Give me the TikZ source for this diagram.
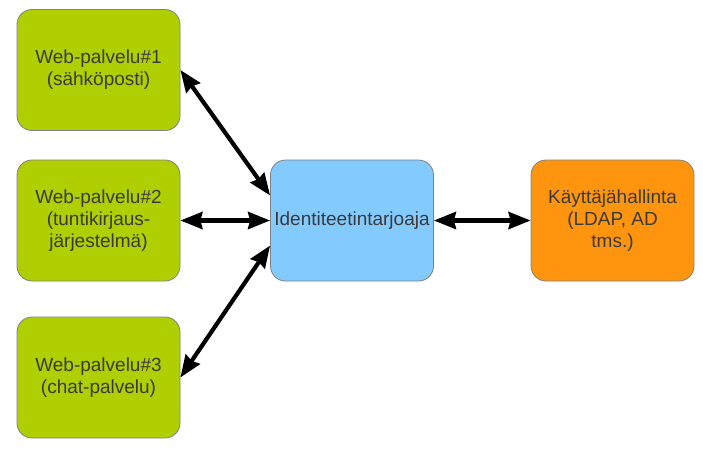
\documentclass[tikz,border=0pt]{standalone}
\usepackage{fontspec}
\setmainfont{Liberation Sans}
\usetikzlibrary{arrows.meta}

\definecolor{webgreen}{HTML}{B0CF00}
\definecolor{idpblue}{HTML}{83CAFF}
\definecolor{userorange}{HTML}{FF950E}
\definecolor{boxtext}{HTML}{3A3A3A}

\begin{document}
\begin{tikzpicture}[x=1pt,y=-1pt,
    box/.style={draw=gray,line width=0.8pt,rounded corners=15pt,
      minimum width=163pt,minimum height=121pt,inner sep=0pt,
      align=center,text=boxtext,font=\fontsize{19}{22}\selectfont},
    link/.style={line width=4.2pt,{Stealth[length=22pt,width=17pt,inset=2pt]}-{Stealth[length=22pt,width=17pt,inset=2pt]}}]
  \path[use as bounding box] (0,0) rectangle (703,450);

  \node[box,fill=webgreen] (web1) at (98.5,70) {Web-palvelu\#1\\(sähköposti)};
  \node[box,fill=webgreen] (web2) at (98.5,220.5) {Web-palvelu\#2\\(tuntikirjaus-\\järjestelmä)};
  \node[box,fill=webgreen] (web3) at (98.5,377.5) {Web-palvelu\#3\\(chat-palvelu)};
  \node[box,fill=idpblue] (idp) at (352,220.5) {Identiteetintarjoaja};
  \node[box,fill=userorange] (users) at (612.5,220.5) {Käyttäjähallinta\\(LDAP, AD\\tms.)};

  \draw[link] (web1.east) -- ([yshift=25pt]idp.west);
  \draw[link] (web2.east) -- (idp.west);
  \draw[link] (web3.east) -- ([yshift=-25pt]idp.west);
  \draw[link] (idp.east) -- (users.west);
\end{tikzpicture}
\end{document}
